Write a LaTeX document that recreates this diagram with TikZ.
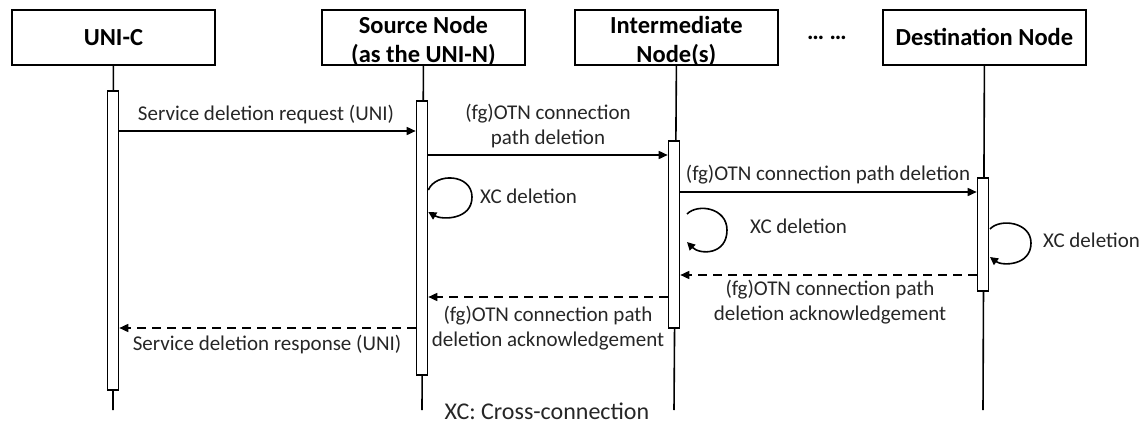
\documentclass[tikz,border=0pt]{standalone}
\usepackage{fontspec}
\setmainfont{Carlito}
\usetikzlibrary{arrows.meta}
\newcommand{\hdl}[1]{\raisebox{-3.5pt}[\height][\depth]{#1}}
\begin{document}
\begin{tikzpicture}[x=1pt,y=-1pt,
  lane/.style={draw, line width=1.8pt, minimum width=203pt, minimum height=55pt, anchor=north west, align=center, font=\fontsize{24.5}{29}\selectfont\bfseries, inner sep=0pt},
  act/.style={draw, line width=1.6pt, fill=white, minimum width=11pt, anchor=north, inner sep=0pt},
  life/.style={line width=1.6pt},
  msg/.style={line width=1.6pt, -{Triangle[length=9pt,width=8pt]}},
  ret/.style={msg, dash pattern=on 9pt off 6pt},
  lbl/.style={font=\fontsize{21}{25}\selectfont, align=center, inner sep=0pt, text=black!85, anchor=base},
  loop/.style={line width=1.6pt, -{Triangle[length=8pt,width=8pt]}}
]
\useasboundingbox (0,0) rectangle (1141,423);
% lane headers
\node[lane] (hU) at (11,9) {UNI-C};
\node[lane] (hS) at (321,9) {\hdl{Source Node}\\\hdl{(as the UNI-N)}};
\node[lane] (hI) at (574,9) {\hdl{Intermediate}\\\hdl{Node(s)}};
\node[lane] (hD) at (882,9) {Destination Node};
\node[font=\fontsize{24}{28}\selectfont\bfseries, inner sep=0pt, anchor=base] (dots) at (827,39) {… …};
% lifeline ends
\coordinate (eU) at (113,410);
\coordinate (eS) at (422,410);
\coordinate (eI) at (674,410);
\coordinate (eD) at (983,410);
\draw[life] (hU.south) -- (eU);
\draw[life] (hS.south) -- (eS);
\draw[life] (hI.south) -- (eI);
\draw[life] (hD.south) -- (eD);
% activations
\node[act, minimum height=299pt] (aU) at (113,90) {};
\node[act, minimum height=274pt] (aS) at (422,100) {};
\node[act, minimum height=187pt] (aI) at (674,140) {};
\node[act, minimum height=113pt] (aD) at (983,177) {};
% messages
\draw[msg] (aU.east |- 0,131) -- (aS.west |- 0,131);
\node[lbl] (m1) at (266,120) {Service deletion request (UNI)};
\draw[msg] (aS.east |- 0,155) -- (aI.west |- 0,155);
\node[lbl] (m2) at (548,144) {(fg)OTN connection\\path deletion};
\draw[msg] (aI.east |- 0,192) -- (aD.west |- 0,192);
\node[lbl] (m3) at (828,180) {(fg)OTN connection path deletion};
% self loops
\draw[loop] (aS.east |- 0,190) .. controls (436,172) and (472,174) .. (472,197)
  .. controls (472,220) and (442,220) .. (aS.east |- 0,212);
\node[lbl, anchor=base west] (x1) at (480,203) {XC deletion};
\draw[loop] (687,214) .. controls (698,203) and (727,208) .. (727,230)
  .. controls (727,255) and (700,255) .. (687,242);
\node[lbl, anchor=base west] (x2) at (750,233) {XC deletion};
\draw[loop] (990,229) .. controls (1000,218) and (1031,222) .. (1031,243)
  .. controls (1031,266) and (1002,266) .. (990,257);
\node[lbl, anchor=base west] (x3) at (1043,247) {XC deletion};
% returns
\draw[ret] (aD.west |- 0,275) -- (aI.east |- 0,275);
\node[lbl] (r1) at (830,320) {(fg)OTN connection path\\deletion acknowledgement};
\draw[ret] (aI.west |- 0,297) -- (aS.east |- 0,297);
\node[lbl] (r2) at (548,346) {(fg)OTN connection path\\deletion acknowledgement};
\draw[ret] (aS.west |- 0,328) -- (aU.east |- 0,328);
\node[lbl] (r3) at (267,350) {Service deletion response (UNI)};
\node[lbl, font=\fontsize{24}{28}\selectfont] (note) at (547,419) {XC: Cross-connection};
\end{tikzpicture}
\end{document}
